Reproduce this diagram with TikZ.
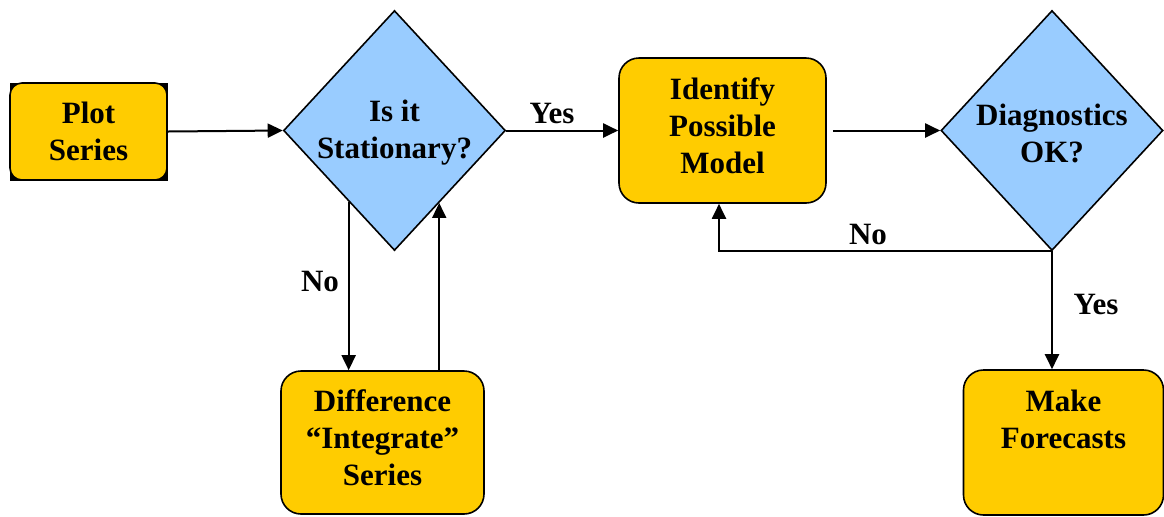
\documentclass[tikz,border=0pt]{standalone}
\usepackage{fontspec}
\setmainfont{Liberation Serif}
\usetikzlibrary{shapes.geometric,arrows.meta,calc}
\definecolor{boxyellow}{HTML}{FFCC00}
\definecolor{diablue}{HTML}{99CCFF}
\begin{document}
\begin{tikzpicture}[x=0.5pt,y=-0.5pt,
  font=\fontsize{15.5}{18.5}\selectfont\bfseries,
  box/.style={draw=black,line width=0.8pt,fill=boxyellow,rounded corners=10pt,align=center,inner sep=0pt},
  dia/.style={draw=black,line width=0.8pt,fill=diablue,shape=diamond,inner sep=0pt,minimum width=111pt,minimum height=120pt},
  txt/.style={align=center,inner sep=0pt},
  arr/.style={draw=black,line width=1pt,-{Triangle[length=7.5pt,width=7pt]}},
  lbl/.style={inner sep=0pt}]
\useasboundingbox (0,0) rectangle (1164,516);
% black backing of plot box
\fill[black] (9.5,82.5) rectangle (167.5,180.5);
\node[box,rounded corners=6pt,minimum width=78.5pt,minimum height=48.5pt] (plot) at (88.5,131.5) {Plot\\Series};
\node[dia] (d1) at (394.5,130.5) {};
\node[txt] (d1t) at (394.5,133) {Is it\\Stationary?};
\node[box,minimum width=103.5pt,minimum height=72.5pt] (ident) at (722.5,130.5) {};
\node[txt] (identt) at (722.5,125.5) {Identify\\Possible\\Model};
\node[dia] (d2) at (1052,130.5) {};
\node[txt] (d2t) at (1052,133) {Diagnostics\\OK?};
\node[box,minimum width=101.5pt,minimum height=71.5pt] (diff) at (382.5,442.5) {};
\node[txt] (difft) at (382.5,437.5) {Difference\\``Integrate''\\Series};
\node[box,minimum width=100pt,minimum height=72.5pt] (make) at (1063.5,442.5) {};
\node[txt] (maket) at (1063.5,419) {Make\\Forecasts};
% connectors
\draw[arr] (plot.east) -- (d1.west);
\draw[arr] (d1.east) -- (ident.west);
\draw[arr] ([xshift=3pt]ident.east) -- (d2.west);
\coordinate (noA) at ($(d1.west)!0.59!(d1.south)$);
\coordinate (upB) at ($(d1.south)!0.4!(d1.east)$);
\draw[arr] (noA) -- (noA |- diff.north);
\draw[arr] (upB |- diff.north) -- (upB);
\coordinate (loopx) at (719,203);
\draw[arr] (d2.south) -| (loopx |- ident.south);
\draw[arr] (d2.south) -- (d2.south |- make.north);
% labels
\node[lbl] (yes1) at (552,113) {Yes};
\node[lbl] (no1) at (320,281) {No};
\node[lbl] (no2) at (868,234) {No};
\node[lbl] (yes2) at (1096,304) {Yes};
\end{tikzpicture}
\end{document}
